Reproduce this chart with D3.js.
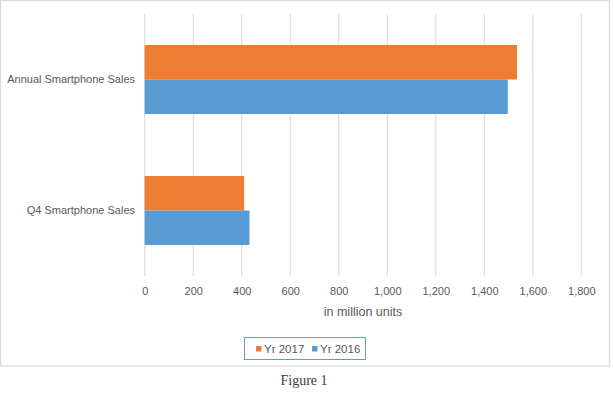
<!DOCTYPE html>
<html>
<head>
<meta charset="utf-8">
<script src="https://cdn.jsdelivr.net/npm/d3@7.9.0/dist/d3.min.js"></script>
<style>
  html, body { margin: 0; padding: 0; background: #fff; }
  svg { display: block; font-family: "Liberation Sans", Arial, sans-serif; }
  .tick text { fill: #595959; font-size: 11px; }
</style>
</head>
<body>
<svg id="chart" width="613" height="398"></svg>
<script>
// --- data
const categories = ['Annual Smartphone Sales', 'Q4 Smartphone Sales'];
const seriesNames = ['Yr 2017', 'Yr 2016'];
const yr2017 = [1535, 410];
const yr2016 = [1497, 432];
const tickValues = [0, 200, 400, 600, 800, 1000, 1200, 1400, 1600, 1800];

const colors = d3.scaleOrdinal().domain(seriesNames).range(['#ED7D31', '#5B9BD5']);
const svg = d3.select('#chart');

// outer chart frame
svg.append('rect')
  .attr('x', 0.5).attr('y', 0.5).attr('width', 609).attr('height', 365.5)
  .attr('fill', '#fff').attr('stroke', '#d9d9d9').attr('stroke-width', 1.2);

const x = d3.scaleLinear().domain([0, 1800]).range([144.7, 581.3]);
const y = d3.scaleBand().domain(categories).range([14, 276])
  .paddingInner(0.473).paddingOuter(0.2365);
const ySub = d3.scaleBand().domain(seriesNames).range([0, y.bandwidth()]);

// gridlines
svg.append('g').selectAll('line')
  .data(tickValues)
  .join('line')
  .attr('x1', d => x(d)).attr('x2', d => x(d))
  .attr('y1', 14).attr('y2', 276)
  .attr('stroke', '#d9d9d9').attr('stroke-width', 1);

// bars
const rows = categories.map((c, i) => ({
  cat: c,
  values: [{ name: 'Yr 2017', value: yr2017[i] }, { name: 'Yr 2016', value: yr2016[i] }]
}));

svg.append('g').selectAll('g')
  .data(rows)
  .join('g')
  .attr('transform', d => `translate(0,${y(d.cat)})`)
  .selectAll('rect')
  .data(d => d.values)
  .join('rect')
  .attr('x', x(0))
  .attr('y', d => ySub(d.name))
  .attr('width', d => x(d.value) - x(0))
  .attr('height', ySub.bandwidth())
  .attr('fill', d => colors(d.name));

// x axis labels
const xAxis = svg.append('g')
  .attr('transform', 'translate(0,276)')
  .call(d3.axisBottom(x).tickValues(tickValues).tickFormat(d3.format(',')).tickSize(0).tickPadding(11));
xAxis.select('.domain').remove();

// category labels
svg.append('g').selectAll('text')
  .data(categories)
  .join('text')
  .attr('x', 135)
  .attr('y', d => y(d) + y.bandwidth() / 2)
  .attr('dy', '0.35em')
  .attr('text-anchor', 'end')
  .attr('fill', '#595959')
  .attr('font-size', 11)
  .text(d => d);

// axis title
svg.append('text')
  .attr('x', (x.range()[0] + x.range()[1]) / 2)
  .attr('y', 316)
  .attr('text-anchor', 'middle')
  .attr('fill', '#595959')
  .attr('font-size', 12.5)
  .text('in million units');

// legend
const legend = svg.append('g');
legend.append('rect')
  .attr('x', 244.5).attr('y', 337.5).attr('width', 121).attr('height', 22)
  .attr('fill', '#fff').attr('stroke', '#5B9BD5').attr('stroke-width', 1);

const legendX = [256, 312];
const items = legend.selectAll('g.item')
  .data(seriesNames)
  .join('g')
  .attr('class', 'item')
  .attr('transform', (d, i) => `translate(${legendX[i]},348.5)`);
items.append('rect')
  .attr('x', 0).attr('y', -2.5).attr('width', 5.5).attr('height', 5.5)
  .attr('fill', d => colors(d));
items.append('text')
  .attr('x', 8).attr('dy', '0.35em')
  .attr('fill', '#595959').attr('font-size', 11.5)
  .text(d => d);

// caption
svg.append('text')
  .attr('x', 304).attr('y', 385)
  .attr('text-anchor', 'middle')
  .attr('fill', '#404040')
  .attr('font-family', '"Liberation Serif", "DejaVu Serif", serif')
  .attr('font-size', 14)
  .text('Figure 1');
</script>
</body>
</html>
